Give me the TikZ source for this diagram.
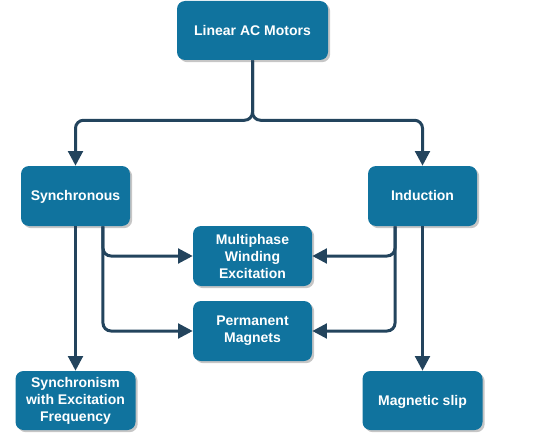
\documentclass[tikz,border=0pt]{standalone}
\usepackage{fontspec}
\setmainfont{Liberation Sans}
\usetikzlibrary{arrows.meta,shadows}
\definecolor{boxfill}{HTML}{10739E}
\definecolor{linecol}{HTML}{23445D}
\tikzset{
  box/.style={rectangle, rounded corners=6pt, fill=boxfill, text=white,
    font=\fontsize{10.5}{12.75}\selectfont\bfseries, align=center, inner sep=0pt,
    drop shadow={shadow xshift=1.6pt, shadow yshift=-1.6pt, fill=black!28, opacity=0.8}},
  oneline/.style={text height=7.2pt, text depth=0pt},
  conn/.style={draw=linecol, line width=2.25pt, rounded corners=6pt,
    -{Triangle[length=11pt,width=11pt]}},
}
\begin{document}
\begin{tikzpicture}[x=0.75pt,y=-0.75pt]
\useasboundingbox (0,0) rectangle (546,435);
\node[box, oneline, minimum width=113.25pt, minimum height=44.25pt] (top) at (252.5,30.5) {Linear AC Motors};
\node[box, oneline, minimum width=81.75pt, minimum height=45pt] (sync) at (75.5,196) {Synchronous};
\node[box, oneline, minimum width=81.75pt, minimum height=45pt] (ind) at (422.5,196) {Induction};
\node[box, minimum width=89.25pt, minimum height=45pt] (multi) at (252.5,256) {Multiphase\\Winding\\Excitation};
\node[box, minimum width=89.25pt, minimum height=45pt] (perm) at (252.5,331) {Permanent\\Magnets};
\node[box, minimum width=90pt, minimum height=44.25pt] (synch) at (75.5,400.5) {Synchronism\\with Excitation\\Frequency};
\node[box, oneline, minimum width=90pt, minimum height=44.25pt] (slip) at (422.5,400.5) {Magnetic slip};

\coordinate (sa) at ([xshift=20.6pt]sync.south);
\coordinate (ia) at ([xshift=-20.6pt]ind.south);

\draw[conn] (top.south) -- ++(0,60) -| (sync.north);
\draw[conn] (top.south) -- ++(0,60) -| (ind.north);
\draw[conn] (sync.south) -- (synch.north);
\draw[conn] (ind.south) -- (slip.north);
\draw[conn] (sa) |- (multi.west);
\draw[conn] (sa) |- (perm.west);
\draw[conn] (ia) |- (multi.east);
\draw[conn] (ia) |- (perm.east);
\end{tikzpicture}
\end{document}
